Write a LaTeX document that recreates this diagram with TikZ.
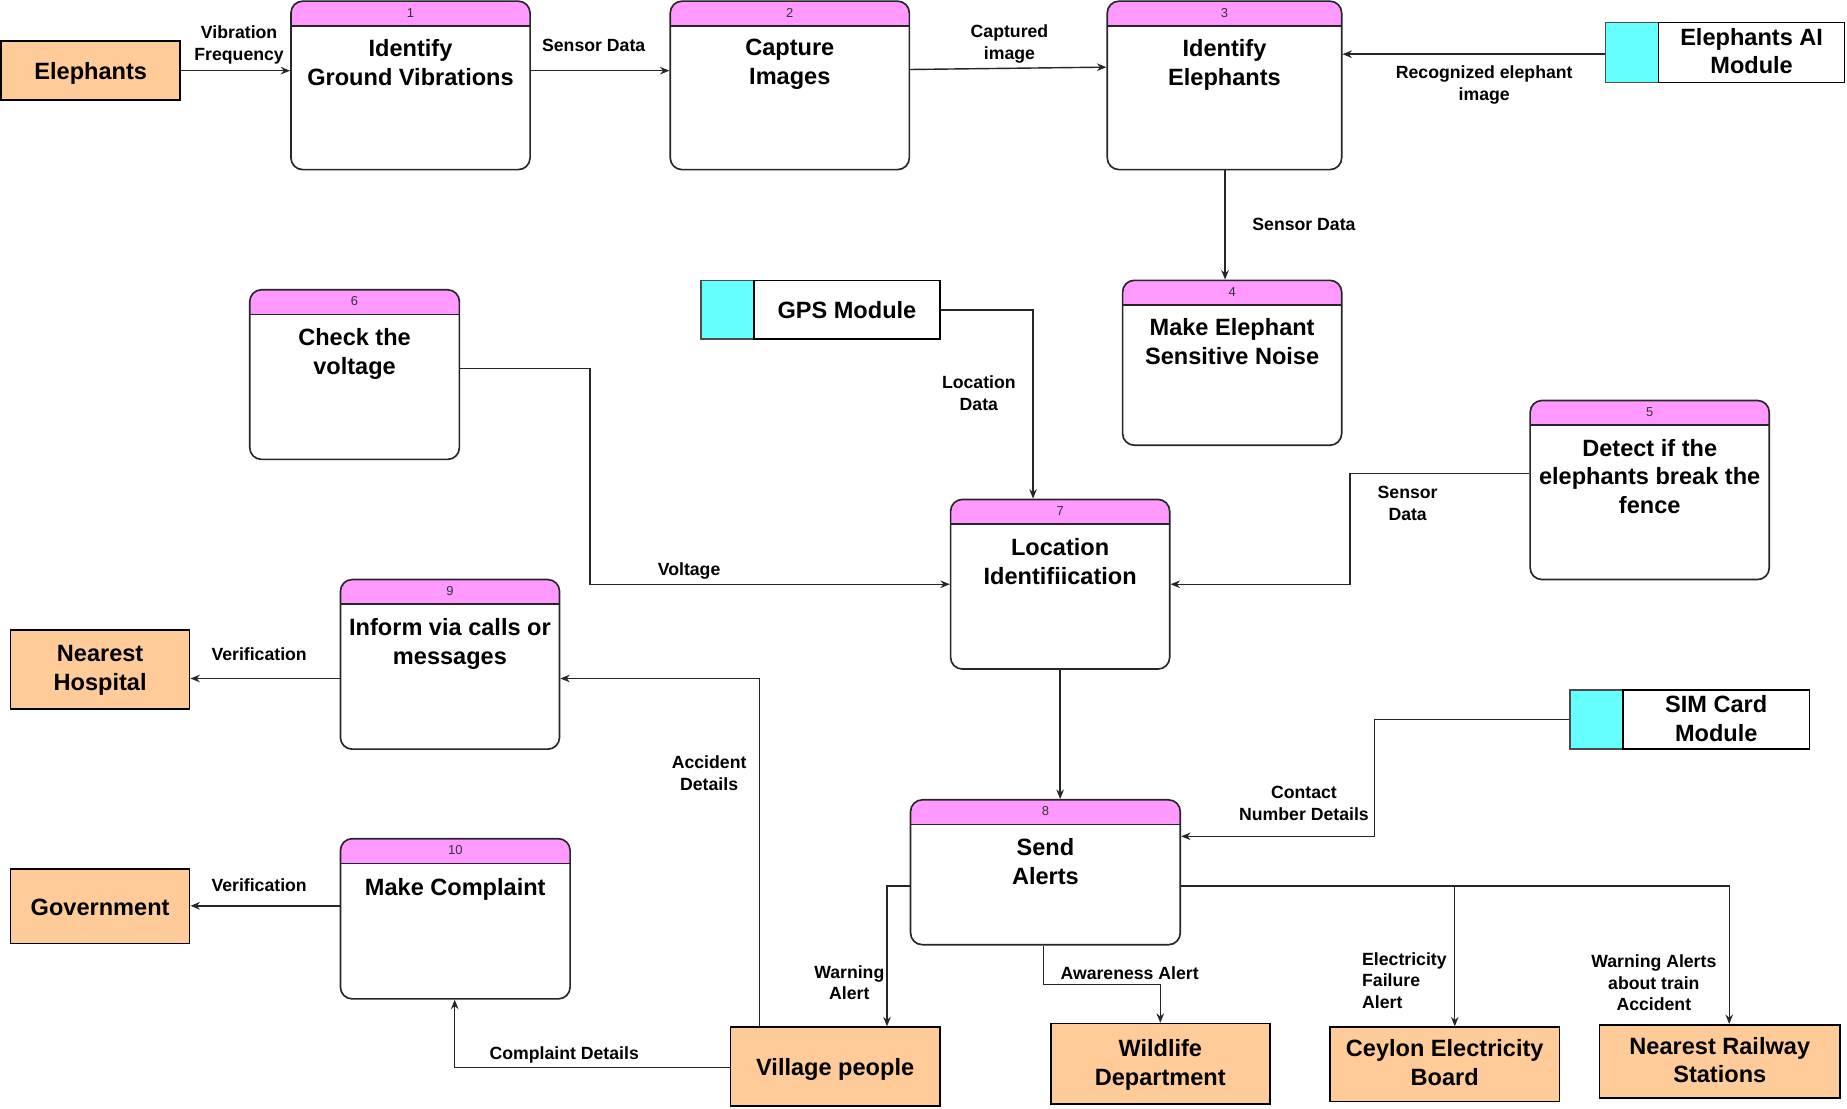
\documentclass[tikz,border=0pt]{standalone}
\usepackage{fontspec}
\setmainfont{Liberation Sans}
\usetikzlibrary{arrows.meta,calc,fit}
\definecolor{hdr}{HTML}{FF99FF}
\definecolor{extc}{HTML}{FFCC99}
\definecolor{modc}{HTML}{66FFFF}
\tikzset{
  proc/.style={draw=black!85, line width=0.7pt, fill=white, rounded corners=5pt, inner sep=0pt,
    path picture={\fill[hdr,sharp corners] (path picture bounding box.north west) rectangle ([yshift=-10.5pt]path picture bounding box.north east);
      \draw[line width=0.7pt,black!85,sharp corners] ([yshift=-10.5pt]path picture bounding box.north west) -- ([yshift=-10.5pt]path picture bounding box.north east);}},
  numtxt/.style={font=\fontsize{5.5}{6}\selectfont, text=black!80, inner sep=0pt},
  bigtxt/.style={font=\fontsize{10}{12.2}\selectfont\bfseries, align=center, inner sep=0pt,
    execute at begin node=\strut, execute at end node=\strut},
  extbox/.style={draw=black, line width=0.7pt, fill=extc, inner sep=0pt},
  modsq/.style={draw=black!70, line width=0.7pt, fill=modc, inner sep=0pt},
  modbox/.style={draw=black, line width=0.7pt, fill=white, inner sep=0pt},
  lbl/.style={font=\fontsize{7.5}{9.2}\selectfont\bfseries, align=center, inner sep=0pt,
    execute at begin node=\strut, execute at end node=\strut},
  arr/.style={draw=black!85, line width=0.6pt, -{Stealth[length=4pt,width=3.2pt]}}
}
\newcommand{\procbox}[8]{%
  \node[proc, fit={(#2,#3) (#4,#5)}] (#1) {};
  \node[numtxt] (#1n) at ($(#1.north)+(0,-5.25pt)$) {#6};
  \node[bigtxt, yshift=-1pt] (#1t) at (#1.north |- 0,#8) {#7};
}
\newcommand{\extnode}[6]{%
  \node[extbox, fit={(#2,#3) (#4,#5)}] (#1) {};
  \node[bigtxt, yshift=-1.2pt] (#1t) at (#1.center) {#6};
}
\newcommand{\modnode}[7]{% name, xc, xw, y1, xr, y2, text
  \node[modsq, fit={(#2,#4) (#3,#6)}] (#1c) {};
  \node[modbox, fit={(#3,#4) (#5,#6)}] (#1) {};
  \node[bigtxt, yshift=-1.2pt] (#1t) at (#1.center) {#7};
}
\begin{document}
\begin{tikzpicture}[x=0.5pt,y=-0.5pt]
\fill[white] (0,0) rectangle (1568,941);
\useasboundingbox (0,0) rectangle (1568,941);

% processes
\procbox{p1}{247}{1}{450}{144}{1}{Identify\\Ground Vibrations}{54.4}
\procbox{p2}{569}{1}{772}{144}{2}{Capture\\Images}{54.4}
\procbox{p3}{940}{1}{1139}{144}{3}{Identify\\Elephants}{54.4}
\procbox{p4}{953}{238}{1139}{378}{4}{Make Elephant\\Sensitive Noise}{291.4}
\procbox{p5}{1299}{340}{1502}{492}{5}{Detect if the\\elephants break the\\fence}{406}
\procbox{p6}{212}{246}{390}{390}{6}{Check the\\voltage}{300}
\procbox{p7}{807}{424}{993}{568}{7}{Location\\Identifiication}{478.4}
\procbox{p8}{773}{679}{1002}{802}{8}{Send\\Alerts}{733}
\procbox{p9}{289}{492}{475}{636}{9}{Inform via calls or\\messages}{546.4}
\procbox{p10}{289}{712}{484}{848}{10}{Make Complaint}{753.4}

% external entities
\extnode{elph}{1}{35}{153}{85}{Elephants}
\extnode{hosp}{9}{535}{161}{602}{Nearest\\Hospital}
\extnode{gov}{9}{738}{161}{801}{Government}
\extnode{vill}{620}{872}{798}{939}{Village people}
\extnode{wild}{892}{869}{1078}{937}{Wildlife\\Department}
\extnode{ceb}{1129}{872}{1324}{935}{Ceylon Electricity\\Board}
\extnode{rail}{1358}{870}{1562}{932}{Nearest Railway\\Stations}

% modules
\modnode{ai}{1363}{1408}{19}{1566}{70}{Elephants AI\\Module}
\modnode{gps}{595}{640}{238}{798}{288}{GPS Module}
\modnode{sim}{1333}{1378}{586}{1536}{636}{SIM Card\\Module}

% connectors
\draw[arr] (elph.east) -- (p1.west |- elph.east);
\node[lbl] (l1) at (203,39.5) {Vibration\\Frequency};

\draw[arr] (p1.east |- elph.east) -- (p2.west |- elph.east);
\node[lbl] (l2) at (504,40) {Sensor Data};

\coordinate (c23a) at (0,59);
\coordinate (c23b) at (0,57);
\draw[arr] (p2.east |- c23a) -- (p3.west |- c23b);
\node[lbl] (l3) at (857,38.5) {Captured\\image};

\coordinate (cai) at (0,46);
\draw[arr] (aic.west |- cai) -- (p3.east |- cai);
\node[lbl] (l4) at (1260,73.5) {Recognized elephant\\image};

\coordinate (c34) at (1040,0);
\draw[arr] (p3.south -| c34) -- (p4.north -| c34);
\node[lbl] (l5) at (1107,192) {Sensor Data};

\coordinate (g1) at (877,263);
\draw[arr] (gps.east |- g1) -- (g1) -- (g1 |- p7.north);
\node[lbl] (l6) at (831,336.5) {Location\\Data};

\coordinate (s5a) at (1146,402);
\coordinate (s5b) at (1146,496);
\draw[arr] (p5.west |- s5a) -- (s5a) -- (s5b) -- (p7.east |- s5b);
\node[lbl] (l7) at (1195,430) {Sensor\\Data};

\coordinate (v6a) at (501,313);
\coordinate (v6b) at (501,496);
\draw[arr] (p6.east |- v6a) -- (v6a) -- (v6b) -- (p7.west |- v6b);
\node[lbl] (l8) at (585,485) {Voltage};

\coordinate (c78) at (900,0);
\draw[arr] (p7.south -| c78) -- (p8.north -| c78);

\coordinate (h9) at (0,576);
\draw[arr] (p9.west |- h9) -- (hosp.east |- h9);
\node[lbl] (l9) at (220,557) {Verification};

\coordinate (a1) at (645,576);
\draw[arr] (vill.north -| a1) -- (a1) -- (p9.east |- a1);
\node[lbl] (l10) at (602,659) {Accident\\Details};

\coordinate (m1) at (1167,611);
\coordinate (m2) at (1167,710);
\draw[arr] (simc.west |- m1) -- (m1) -- (m2) -- (p8.east |- m2);
\node[lbl] (l11) at (1107,684.5) {Contact\\Number Details};

\coordinate (g10) at (0,769);
\draw[arr] (p10.west |- g10) -- (gov.east |- g10);
\node[lbl] (l12) at (220,753) {Verification};

\coordinate (cp1) at (386,906);
\draw[arr] (vill.west |- cp1) -- (cp1) -- (cp1 |- p10.south);
\node[lbl] (l13) at (479,896) {Complaint Details};

\coordinate (w1) at (753,752);
\draw[arr] (p8.west |- w1) -- (w1) -- (w1 |- vill.north);
\node[lbl] (l14) at (721,837) {Warning\\Alert};

\coordinate (aw1) at (886,836);
\coordinate (aw2) at (985,836);
\draw[arr] (p8.south -| aw1) -- (aw1) -- (aw2) -- (aw2 |- wild.north);
\node[lbl] (l15) at (959,828) {Awareness Alert};

\coordinate (e1) at (1235,752);
\coordinate (e2) at (1468,752);
\draw[arr] (p8.east |- e1) -- (e1) -- (e1 |- ceb.north);
\draw[arr] (e1) -- (e2) -- (e2 |- rail.north);
\node[lbl, align=left, anchor=west] (l16) at (1156,835) {Electricity\\Failure\\Alert};
\node[lbl] (l17) at (1404,837) {Warning Alerts\\about train\\Accident};
\end{tikzpicture}
\end{document}
